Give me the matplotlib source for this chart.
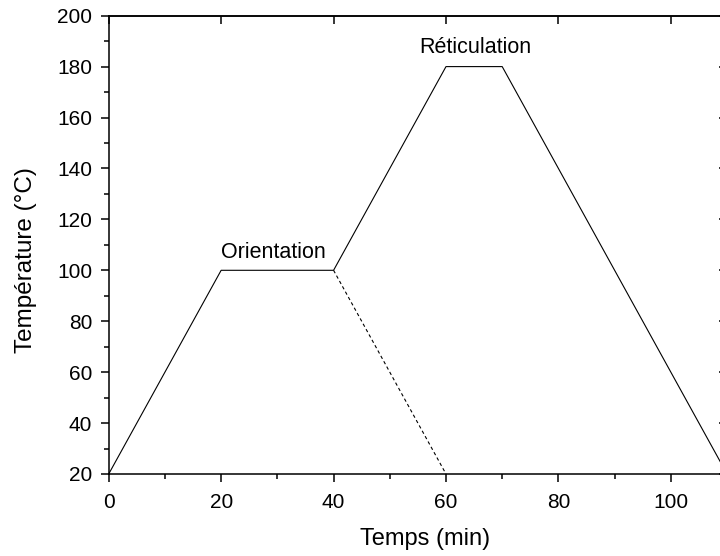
import matplotlib
matplotlib.use("Agg")
import matplotlib.pyplot as plt
from matplotlib.ticker import MultipleLocator

plt.rcParams["font.family"] = ["Liberation Sans", "DejaVu Sans"]

# thermal cycle: time (min) vs temperature (degC)
temps_min = [0, 20, 40, 60, 70, 110]
temperature = [20, 100, 100, 180, 180, 20]

# alternative cooling after orientation step (dashed)
alt_time = [40, 60]
alt_temp = [100, 20]

labels = ["Orientation", "Réticulation"]
label_pos = [(20, 105), (55.2, 185.3)]

fig = plt.figure(figsize=(7.2, 5.56), dpi=100)
ax = fig.add_axes([0.151, 0.1475, 0.8588, 0.8243])

ax.plot(temps_min, temperature, color="black", lw=0.8, clip_on=False)
ax.plot(alt_time, alt_temp, color="black", lw=0.8, linestyle=(0, (3, 2.5)))

for txt, (x, y) in zip(labels, label_pos):
    ax.text(x, y, txt, fontsize=15.5, ha="left", va="baseline")

ax.set_xlim(0, 110)
ax.set_ylim(20, 200)
ax.xaxis.set_major_locator(MultipleLocator(20))
ax.xaxis.set_minor_locator(MultipleLocator(10))
ax.yaxis.set_major_locator(MultipleLocator(20))
ax.yaxis.set_minor_locator(MultipleLocator(10))

for sp in ax.spines.values():
    sp.set_linewidth(1.1)

ax.tick_params(which="major", direction="out", length=6, width=1.1,
               labelsize=15, pad=6)
ax.tick_params(axis="x", which="major", pad=8)
ax.tick_params(which="minor", direction="out", length=3.5, width=1.1)

# mirrored major ticks on top/right, pointing inward
top = ax.secondary_xaxis("top")
top.set_xticks([0, 20, 40, 60, 80, 100])
top.tick_params(direction="in", length=6, width=1.1, labeltop=False)
top.spines["top"].set_linewidth(1.1)
right = ax.secondary_yaxis("right")
right.set_yticks(list(range(20, 201, 20)))
right.tick_params(direction="in", length=6, width=1.1, labelright=False)
right.spines["right"].set_linewidth(1.1)

ax.set_xlabel("Temps (min)", fontsize=17)
ax.set_ylabel("Température (°C)", fontsize=17.5)
ax.xaxis.set_label_coords(0.5116, -0.142)
ax.xaxis.label.set_va("center")
ax.yaxis.set_label_coords(-0.134, 0.467)
ax.yaxis.label.set_va("center")

fig.savefig("out.png", dpi=100)
